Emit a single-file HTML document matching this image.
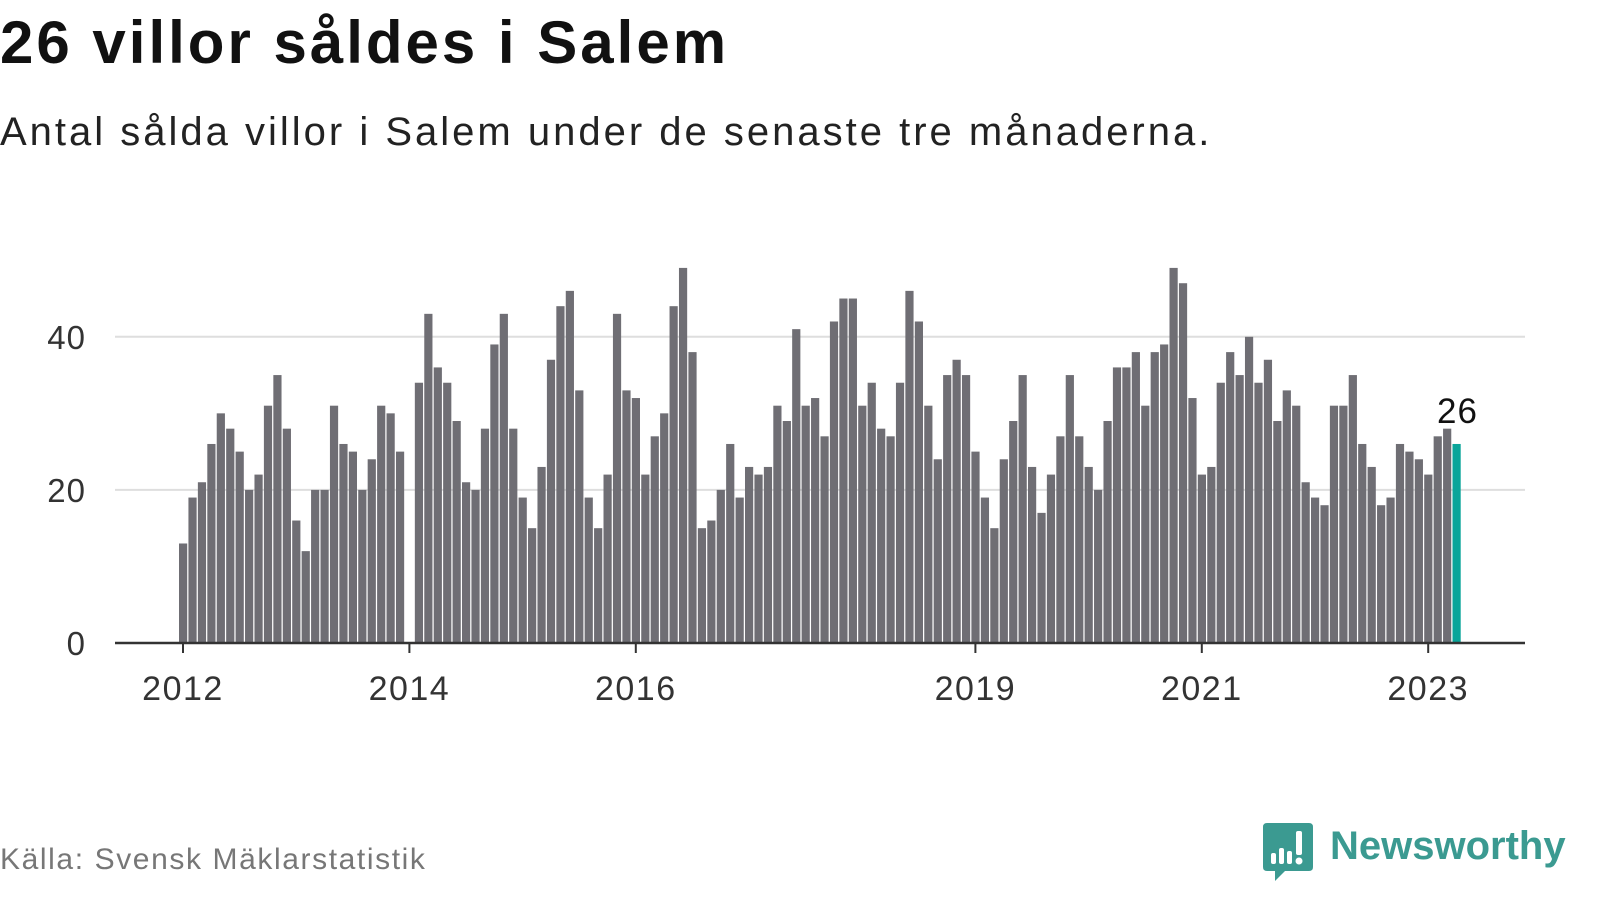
<!DOCTYPE html>
<html><head><meta charset="utf-8">
<style>
body{margin:0;width:1600px;height:900px;background:#fff;font-family:"Liberation Sans",sans-serif;overflow:hidden;position:relative}
#title{position:absolute;left:0;top:8px;font-size:60px;letter-spacing:3px;font-weight:bold;color:#111;margin:0}
#sub{position:absolute;left:0;top:110px;font-size:40px;letter-spacing:3px;color:#222}
#src{position:absolute;left:0;top:843px;font-size:30px;letter-spacing:1.6px;color:#777}
#logo{position:absolute;left:1263px;top:823px}
#logotext{position:absolute;left:1330px;top:824px;font-size:40px;font-weight:bold;color:#3b9a91}
svg#chart{position:absolute;left:0;top:0}
</style></head><body>
<h1 id="title">26 villor såldes i Salem</h1>
<div id="sub">Antal sålda villor i Salem under de senaste tre månaderna.</div>
<svg id="chart" width="1600" height="900"></svg>
<div id="src">Källa: Svensk Mäklarstatistik</div>
<svg id="logo" width="50" height="58">
<path d="M4 0H46Q50 0 50 4V44Q50 48 46 48H22L12 58V48H4Q0 48 0 44V4Q0 0 4 0Z" fill="#3b9a91"/>
<rect x="8" y="30" width="5" height="11" rx="2" fill="#fff"/><rect x="16" y="25" width="5" height="16" rx="2" fill="#fff"/><rect x="24" y="28" width="5" height="13" rx="2" fill="#fff"/><rect x="33" y="8" width="6" height="24" rx="2" fill="#fff"/><circle cx="36" cy="38" r="3.5" fill="#fff"/>
</svg>
<div id="logotext">Newsworthy</div>
<script>
const startYear = 2012;
const values = [
13,19,21,26,30,28,25,20,22,31,35,28,
16,12,20,20,31,26,25,20,24,31,30,25,
0,34,43,36,34,29,21,20,28,39,43,28,
19,15,23,37,44,46,33,19,15,22,43,33,
32,22,27,30,44,49,38,15,16,20,26,19,
23,22,23,31,29,41,31,32,27,42,45,45,
31,34,28,27,34,46,42,31,24,35,37,35,
25,19,15,24,29,35,23,17,22,27,35,27,
23,20,29,36,36,38,31,38,39,49,47,32,
22,23,34,38,35,40,34,37,29,33,31,21,
19,18,31,31,35,26,23,18,19,26,25,24,
22,27,28,26];
const yTicks = [0,20,40];
const xTickYears = [2012,2014,2016,2019,2021,2023];

const svg = document.getElementById('chart');
const NS = 'http://www.w3.org/2000/svg';
const y0 = 643, pxPerUnit = 7.655;
const x0 = 183, pxPerMonth = 113.2/12;
const y = v => y0 - v*pxPerUnit;
const x = i => x0 + i*pxPerMonth;
function mk(tag, attrs){const e=document.createElementNS(NS,tag);for(const k in attrs)e.setAttribute(k,attrs[k]);svg.appendChild(e);return e;}

yTicks.forEach(t=>{
  if(t>0){const g=mk('line',{x1:115,x2:1525,y1:y(t),y2:y(t),stroke:'#dedede','stroke-width':2});
    
    }
  const l=mk('text',{x:86,y:y(t)+12,'text-anchor':'end','font-size':33,'letter-spacing':1,fill:'#333','font-family':'Liberation Sans, sans-serif'});
  l.textContent=t;
  
  
});
values.forEach((v,i)=>{
  const last=i===values.length-1;
  const r=mk('rect',{x:x(i)-4,y:y(v),width:8.2,height:v*pxPerUnit,fill:last?'#0aa59a':'#6f6e74'});
  
  
});
const li=values.length-1;
const vl=mk('text',{x:x(li)+1,y:y(values[li])-21,'text-anchor':'middle','font-size':35,'letter-spacing':1,fill:'#111','font-family':'Liberation Sans, sans-serif'});
vl.textContent=values[li];


const ax=mk('line',{x1:115,x2:1525,y1:y0,y2:y0,stroke:'#333','stroke-width':2.5});


xTickYears.forEach(yr=>{
  const xi=x((yr-startYear)*12);
  const tk=mk('line',{x1:xi,x2:xi,y1:y0,y2:y0+10,stroke:'#333','stroke-width':2});
  
  
  const t=mk('text',{x:xi,y:700,'text-anchor':'middle','font-size':34,'letter-spacing':1.5,fill:'#333','font-family':'Liberation Sans, sans-serif'});
  t.textContent=yr;
  
  
});
</script>
</body></html>
